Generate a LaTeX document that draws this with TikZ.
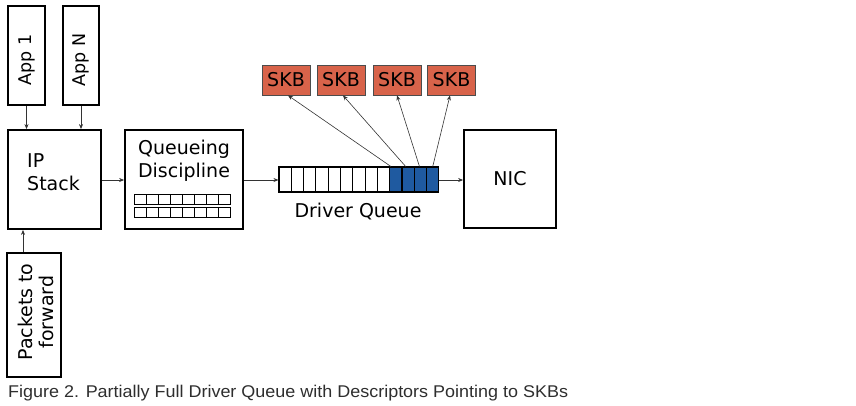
\documentclass[tikz,border=0pt]{standalone}
\usepackage{fontspec}
\setmainfont{DejaVu Sans}
\newfontfamily\capfont{Liberation Sans}
\usetikzlibrary{arrows.meta,calc}
\definecolor{skbred}{HTML}{D8634A}
\definecolor{qblue}{HTML}{1F5AA0}
\definecolor{capgray}{HTML}{2E2E2E}
\tikzset{
  box/.style={draw=black, line width=1.8pt, fill=white, inner sep=0pt},
  cell/.style={draw=black, line width=1.1pt, inner sep=0pt, minimum width=12.3pt, minimum height=25pt},
  mini/.style={draw=black, line width=0.8pt, inner sep=0pt, minimum width=12pt, minimum height=10pt},
  skb/.style={draw=black!70, line width=0.8pt, fill=skbred, inner sep=0pt, minimum width=48pt, minimum height=30pt, font=\fontsize{19}{22}\selectfont},
  arr/.style={draw=black!80, line width=0.6pt, -{Stealth[length=5pt,width=4pt]}},
  lbl/.style={font=\fontsize{19}{23}\selectfont, inner sep=0pt},
}
\begin{document}
\begin{tikzpicture}[x=1pt,y=-1pt]
\useasboundingbox (0,0) rectangle (856,405);
% apps
\node[box, minimum width=37pt, minimum height=99pt] (app1) at (26.5,55.5) {};
\node[lbl, rotate=90, font=\fontsize{17.5}{21}\selectfont] (app1t) at (26.5,60) {App 1};
\node[box, minimum width=36pt, minimum height=99pt] (appn) at (81,55.5) {};
\node[lbl, rotate=90, font=\fontsize{17.5}{21}\selectfont] (appnt) at (81,60) {App N};
% IP stack
\node[box, minimum width=92.7pt, minimum height=99pt] (ip) at (54.3,179.5) {};
\node[lbl, align=left, anchor=west] (ipt) at (27,172) {IP\\Stack};
% queueing discipline
\node[box, minimum width=118pt, minimum height=99pt] (qd) at (184,179.5) {};
\node[lbl, align=center] (qdt) at (184,161) {Queueing\\Discipline};
\foreach \r/\yy in {a/199, b/212} {
  \foreach \i in {1,...,8} {
    \node[mini] (m\r\i) at ({134+6+12*(\i-1)},\yy) {};
  }
}
% driver queue
\foreach \i in {1,...,13} {
  \ifnum\i>9
    \node[cell, fill=qblue] (c\i) at ({279+6.15+12.3*(\i-1)},179.5) {};
  \else
    \node[cell, fill=white] (c\i) at ({279+6.15+12.3*(\i-1)},179.5) {};
  \fi
}
\node[lbl] (dq) at (358,212) {Driver Queue};
% NIC
\node[box, minimum width=92pt, minimum height=98pt] (nic) at (510,179) {};
\node[lbl] (nict) at (510,179) {NIC};
% SKBs
\node[skb] (s1) at (286,80) {SKB};
\node[skb] (s2) at (341,80) {SKB};
\node[skb] (s3) at (397,80) {SKB};
\node[skb] (s4) at (451.5,80) {SKB};
% packets to forward
\node[box, line width=2.6pt, minimum width=54pt, minimum height=124pt] (pkt) at (34,315) {};
\node[lbl, rotate=90, align=center, font=\fontsize{19}{21}\selectfont] (pktt) at (36,312) {Packets to\\forward};
% arrows
\draw[arr] (app1.south) -- (app1.south |- ip.north);
\draw[arr] (appn.south) -- (appn.south |- ip.north);
\draw[arr] (ip.east |- 0,180) -- (qd.west |- 0,180);
\draw[arr] (qd.east |- 0,180) -- (c1.west |- 0,180);
\draw[arr] (c13.east |- 0,180) -- (nic.west |- 0,180);
\draw[arr] (pkt.north -| 23,0) -- (ip.south -| 23,0);
\draw[arr] ($(c10.north)+(-5,0)$) -- ($(s1.south)+(2,0)$);
\draw[arr] ($(c11.north)+(-2.5,0)$) -- ($(s2.south)+(2,0)$);
\draw[arr] ($(c12.north)+(-1,0)$) -- (s3.south);
\draw[arr] (c13.north) -- ($(s4.south)+(-1.5,0)$);
% caption
\node[anchor=base west, inner sep=0pt, text=capgray, font=\capfont\fontsize{17}{20}\selectfont] (cap) at (8,397.5) {\scalebox{1.057}[1]{Figure 2. Partially Full Driver Queue with Descriptors Pointing to SKBs}};
\end{tikzpicture}
\end{document}
